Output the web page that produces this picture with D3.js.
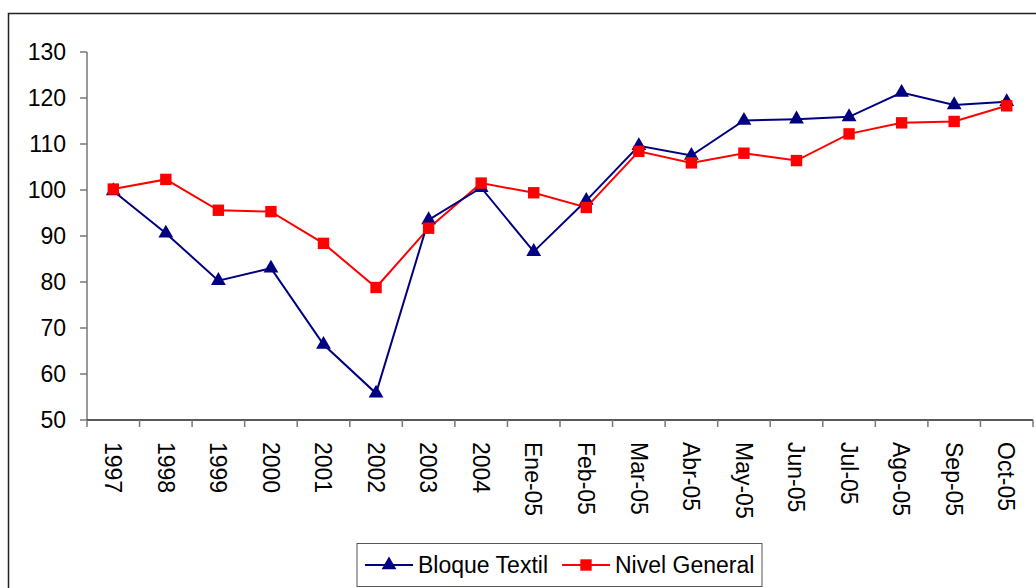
<!DOCTYPE html>
<html>
<head>
<meta charset="utf-8">
<script src="https://cdn.jsdelivr.net/npm/d3@7"></script>
<style>
  body { margin: 0; background: #fff; }
  svg text { font-family: "Liberation Sans", Arial, sans-serif; fill: #000; }
</style>
</head>
<body>
<svg id="chart" width="1036" height="588"></svg>
<script>
// categories on the x axis
const categories = ["1997", "1998", "1999", "2000", "2001", "2002", "2003", "2004",
    "Ene-05", "Feb-05", "Mar-05", "Abr-05", "May-05", "Jun-05", "Jul-05", "Ago-05", "Sep-05", "Oct-05"];
// series values
const bloqueTextil = [99.8, 90.6, 80.3, 83.0, 66.4, 55.8, 93.5, 100.5,
    86.6, 97.7, 109.6, 107.5, 115.1, 115.4, 115.9, 121.2, 118.5, 119.2];
const nivelGeneral = [100.2, 102.3, 95.6, 95.3, 88.4, 78.8, 91.7, 101.5,
    99.4, 96.2, 108.4, 105.9, 108.0, 106.4, 112.2, 114.6, 114.9, 118.3];
const yTicks = [50, 60, 70, 80, 90, 100, 110, 120, 130];

const svg = d3.select("#chart");
const fontSize = 23;

// outer chart frame (runs off the right and bottom edge)
svg.append("rect")
    .attr("x", 8.5).attr("y", 13.5)
    .attr("width", 1040).attr("height", 600)
    .attr("fill", "none").attr("stroke", "#222").attr("stroke-width", 1.5);

const plot = { left: 87, right: 1033, top: 52, bottom: 420 };

const x = d3.scaleBand().domain(categories).range([plot.left, plot.right]).padding(0);
const y = d3.scaleLinear().domain([50, 130]).range([plot.bottom, plot.top]);
const cx = d => x(d) + x.bandwidth() / 2;

// y axis
const yAxis = svg.append("g");
yAxis.append("line")
    .attr("x1", plot.left).attr("x2", plot.left)
    .attr("y1", y(130)).attr("y2", y(50))
    .attr("stroke", "#777").attr("stroke-width", 1.5);
yAxis.selectAll(".tick").data(yTicks).enter().append("line")
    .attr("x1", plot.left - 7).attr("x2", plot.left)
    .attr("y1", d => y(d)).attr("y2", d => y(d))
    .attr("stroke", "#777").attr("stroke-width", 1.5);
yAxis.selectAll("text").data(yTicks).enter().append("text")
    .attr("x", 66).attr("y", d => y(d)).attr("dy", "0.36em")
    .attr("text-anchor", "end").attr("font-size", fontSize)
    .text(d => d);

// x axis
const xAxis = svg.append("g");
xAxis.append("line")
    .attr("x1", plot.left).attr("x2", plot.right)
    .attr("y1", plot.bottom).attr("y2", plot.bottom)
    .attr("stroke", "#222").attr("stroke-width", 1.5);
const boundaries = categories.map(d => x(d)).concat([plot.right]);
xAxis.selectAll(".tick").data(boundaries).enter().append("line")
    .attr("x1", d => d).attr("x2", d => d)
    .attr("y1", plot.bottom).attr("y2", plot.bottom + 7)
    .attr("stroke", "#777").attr("stroke-width", 1.5);
xAxis.selectAll("text").data(categories).enter().append("text")
    .attr("transform", d => "translate(" + cx(d) + "," + 442 + ") rotate(90)")
    .attr("dy", "0.36em")
    .attr("text-anchor", "start").attr("font-size", fontSize)
    .text(d => d);

// lines
const line = d3.line().x((d, i) => cx(categories[i])).y(d => y(d));

svg.append("path").datum(nivelGeneral)
    .attr("d", line).attr("fill", "none")
    .attr("stroke", "#ff0000").attr("stroke-width", 2);
svg.append("path").datum(bloqueTextil)
    .attr("d", line).attr("fill", "none")
    .attr("stroke", "#000080").attr("stroke-width", 2);

const triangle = d3.symbol().type(d3.symbolTriangle).size(95);
const square = d3.symbol().type(d3.symbolSquare).size(130);

svg.selectAll(".tri").data(bloqueTextil).enter().append("path")
    .attr("transform", (d, i) => "translate(" + cx(categories[i]) + "," + y(d) + ")")
    .attr("d", triangle).attr("fill", "#000080");
svg.selectAll(".sq").data(nivelGeneral).enter().append("path")
    .attr("transform", (d, i) => "translate(" + cx(categories[i]) + "," + y(d) + ")")
    .attr("d", square).attr("fill", "#ff0000");

// legend
const legend = svg.append("g");
legend.append("rect")
    .attr("x", 357).attr("y", 543.5).attr("width", 405).attr("height", 43)
    .attr("fill", "#fff").attr("stroke", "#555").attr("stroke-width", 1);
const legendItems = [
    { name: "Bloque Textil", color: "#000080", sym: triangle, x0: 365 },
    { name: "Nivel General", color: "#ff0000", sym: square, x0: 562 }
];
legendItems.forEach(function (it) {
    legend.append("line")
        .attr("x1", it.x0).attr("x2", it.x0 + 48)
        .attr("y1", 565).attr("y2", 565)
        .attr("stroke", it.color).attr("stroke-width", 2);
    legend.append("path")
        .attr("transform", "translate(" + (it.x0 + 24) + ",565)")
        .attr("d", it.sym).attr("fill", it.color);
    legend.append("text")
        .attr("x", it.x0 + 53).attr("y", 565).attr("dy", "0.36em")
        .attr("font-size", fontSize)
        .text(it.name);
});
</script>
</body>
</html>
